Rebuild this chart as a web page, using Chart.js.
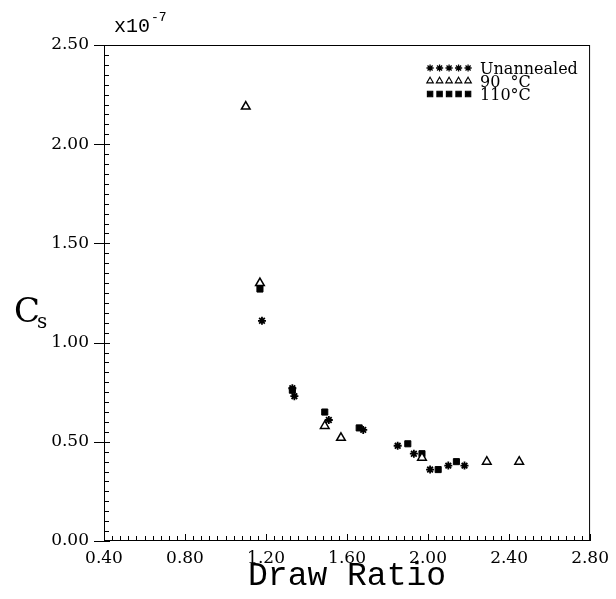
<!DOCTYPE html>
<html>
<head>
<meta charset="utf-8">
<script src="https://cdn.jsdelivr.net/npm/chart.js@4.4.1/dist/chart.umd.min.js"></script>
<style>
  html, body { margin: 0; padding: 0; background: #fff; }
  #wrap { width: 616px; height: 599px; position: relative; }
</style>
</head>
<body>
<div id="wrap"><canvas id="chart"></canvas></div>
<script>
// values (Cs in units of 1e-7)
const unannealedX = [1.18, 1.33, 1.34, 1.51, 1.68, 1.85, 1.93, 2.01, 2.10, 2.18];
const unannealedY = [1.11, 0.77, 0.73, 0.61, 0.56, 0.48, 0.44, 0.36, 0.38, 0.38];

const c90X = [1.10, 1.17, 1.49, 1.57, 1.97, 2.29, 2.45];
const c90Y = [2.19, 1.30, 0.58, 0.52, 0.42, 0.40, 0.40];

const c110X = [1.17, 1.33, 1.49, 1.66, 1.90, 1.97, 2.05, 2.14];
const c110Y = [1.27, 0.76, 0.65, 0.57, 0.49, 0.44, 0.36, 0.40];

const seriesNames = ['Unannealed', '90  °C', '110°C'];
const xTickLabels = ['0.40', '0.80', '1.20', '1.60', '2.00', '2.40', '2.80'];
const yTickLabels = ['0.00', '0.50', '1.00', '1.50', '2.00', '2.50'];

const toPoints = (xs, ys) => xs.map((x, i) => ({ x: x, y: ys[i] }));

const MONO = '"Liberation Mono", "DejaVu Sans Mono", monospace';
const SERIF = '"DejaVu Serif", serif';

// frame, inward minor ticks, legend and the extra axis text
const framePlugin = {
  id: 'framePlugin',
  beforeDatasetsDraw(chart) {
    const { ctx, chartArea: a, scales } = chart;
    const xs = scales.x, ys = scales.y;
    ctx.save();
    ctx.strokeStyle = '#000';
    ctx.lineWidth = 1;
    ctx.strokeRect(a.left + 0.5, a.top + 0.5, a.right - a.left - 1, a.bottom - a.top - 1);
    ctx.beginPath();
    for (let i = 0; i <= 60; i++) {
      const px = Math.round(xs.getPixelForValue(0.4 + i * 0.04)) + 0.5;
      const len = i % 10 === 0 ? 7 : 5;
      ctx.moveTo(px, a.bottom);
      ctx.lineTo(px, a.bottom - len);
    }
    for (let i = 0; i <= 50; i++) {
      const py = Math.round(ys.getPixelForValue(i * 0.05)) + 0.5;
      if (i % 10 === 0) {
        ctx.moveTo(a.left - 10, py);
        ctx.lineTo(a.left + 6, py);
      } else {
        ctx.moveTo(a.left, py);
        ctx.lineTo(a.left + 5, py);
      }
    }
    ctx.stroke();
    ctx.restore();
  },
  afterDraw(chart) {
    const { ctx, chartArea: a } = chart;
    ctx.save();
    ctx.fillStyle = '#000';
    ctx.textBaseline = 'alphabetic';
    // x10^-7
    ctx.font = '20px ' + MONO;
    ctx.fillText('x10', a.left + 10, 32);
    ctx.font = '13px ' + MONO;
    ctx.fillText('-7', a.left + 47, 21);
    // C_s
    ctx.font = '34px ' + SERIF;
    ctx.fillText('C', 14, 322);
    ctx.font = '20px ' + SERIF;
    ctx.fillText('s', 37, 328);
    // legend
    const styles = ['star', 'triangle', 'rect'];
    const rows = [68, 81, 94];
    const x0 = a.right - 160;
    ctx.strokeStyle = '#000';
    for (let r = 0; r < 3; r++) {
      for (let k = 0; k < 5; k++) {
        ctx.fillStyle = styles[r] === 'triangle' ? '#fff' : '#000';
        ctx.lineWidth = styles[r] === 'star' ? 1.3 : 1.1;
        Chart.helpers.drawPoint(ctx, { pointStyle: styles[r], radius: styles[r] === 'star' ? 3.6 : 3.8, borderWidth: ctx.lineWidth }, x0 + k * 9.5, rows[r]);
      }
      ctx.fillStyle = '#000';
      ctx.font = '16px ' + SERIF;
      ctx.fillText(seriesNames[r], x0 + 50, rows[r] + 6);
    }
    ctx.restore();
  }
};

new Chart(document.getElementById('chart'), {
  type: 'scatter',
  data: {
    datasets: [
      {
        label: seriesNames[0],
        data: toPoints(unannealedX, unannealedY),
        pointStyle: 'star',
        pointRadius: 4,
        borderColor: '#000',
        backgroundColor: '#000',
        borderWidth: 1.8
      },
      {
        label: seriesNames[1],
        data: toPoints(c90X, c90Y),
        pointStyle: 'triangle',
        pointRadius: 5,
        borderColor: '#000',
        backgroundColor: '#fff',
        borderWidth: 1.5
      },
      {
        label: seriesNames[2],
        data: toPoints(c110X, c110Y),
        pointStyle: 'rect',
        pointRadius: 4.3,
        borderColor: '#000',
        backgroundColor: '#000',
        borderWidth: 1
      }
    ]
  },
  options: {
    responsive: true,
    maintainAspectRatio: false,
    animation: false,
    layout: { padding: { left: 0, right: 21, top: 45, bottom: 0 } },
    plugins: { legend: { display: false }, tooltip: { enabled: false } },
    scales: {
      x: {
        type: 'linear',
        min: 0.4,
        max: 2.8,
        afterFit: (s) => { s.height = 58; },
        grid: { display: false, drawTicks: false },
        border: { display: false },
        ticks: {
          stepSize: 0.4,
          padding: 7,
          color: '#000',
          font: { family: SERIF, size: 17 },
          callback: (v) => {
            const i = Math.round((v - 0.4) / 0.4);
            return xTickLabels[i] !== undefined ? xTickLabels[i] : '';
          }
        },
        title: {
          display: true,
          text: 'Draw Ratio',
          color: '#000',
          font: { family: MONO, size: 33 },
          padding: { top: 0, bottom: 3 }
        }
      },
      y: {
        type: 'linear',
        min: 0,
        max: 2.5,
        afterFit: (s) => { s.width = 104; },
        grid: { display: false, drawTicks: false },
        border: { display: false },
        ticks: {
          stepSize: 0.5,
          padding: 15,
          color: '#000',
          font: { family: SERIF, size: 17 },
          callback: (v) => {
            const i = Math.round(v / 0.5);
            return yTickLabels[i] !== undefined ? yTickLabels[i] : '';
          }
        }
      }
    }
  },
  plugins: [framePlugin]
});
</script>
</body>
</html>
